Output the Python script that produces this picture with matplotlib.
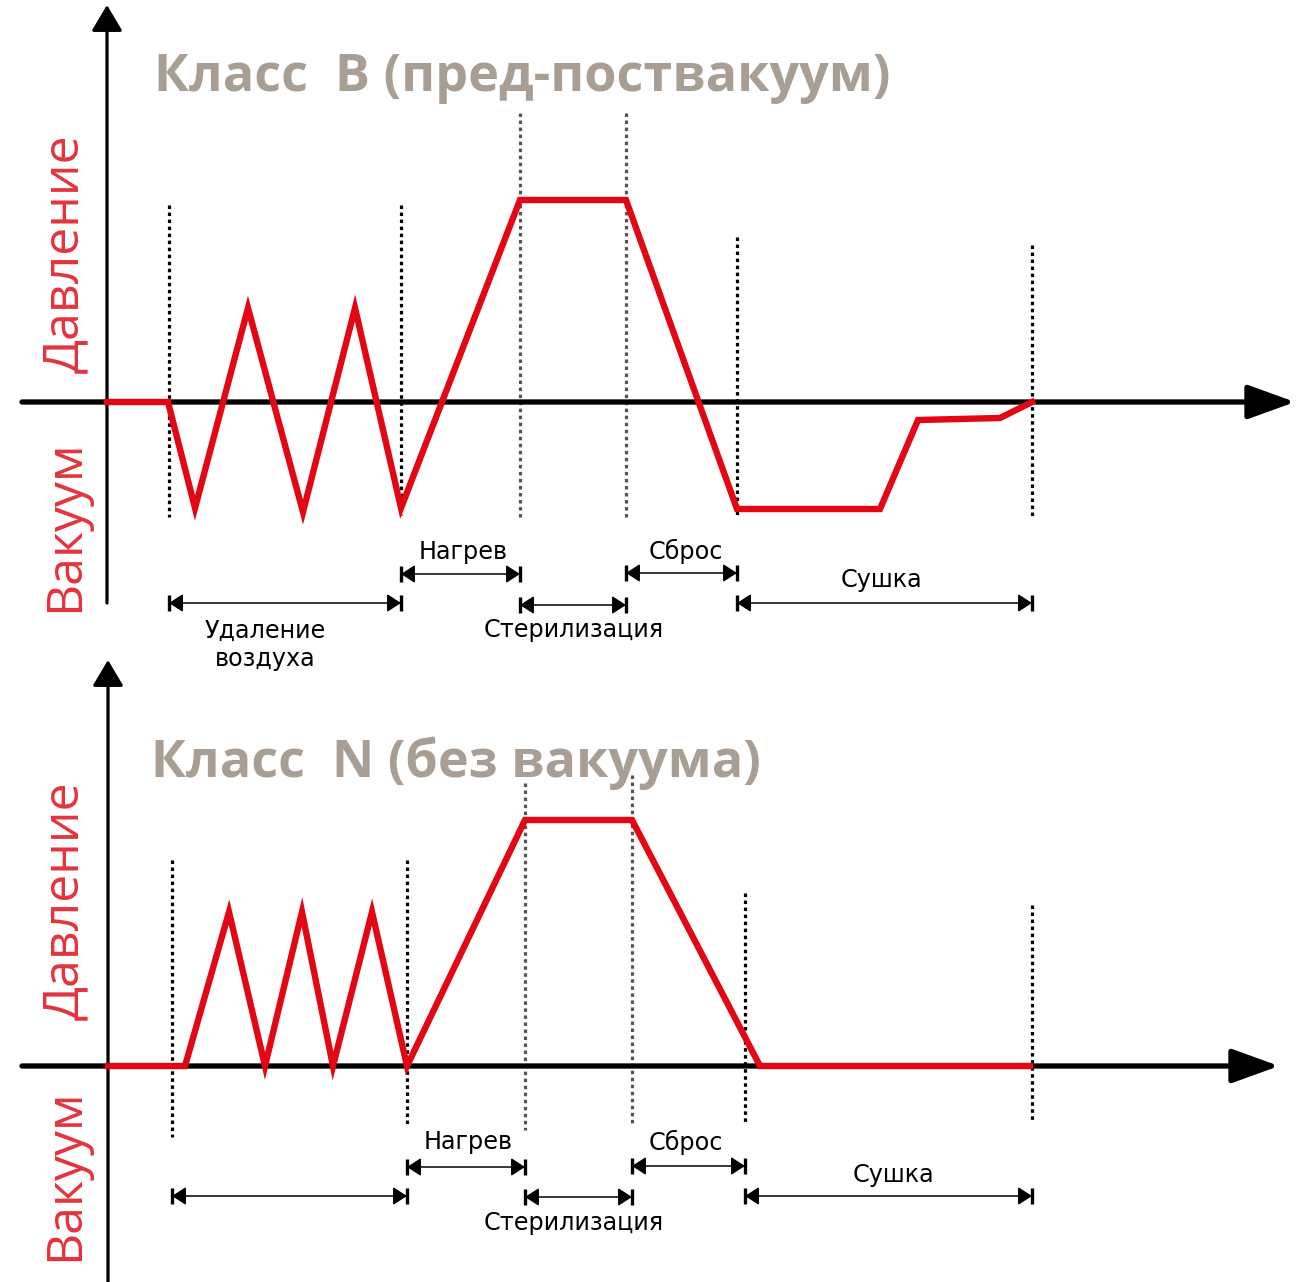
import matplotlib
matplotlib.use("Agg")
import matplotlib.pyplot as plt

# ---------------- data ----------------
# Class B (pre/post vacuum): time (arbitrary units) and pressure (relative, 0 = atmosphere)
b_time = [107, 168, 195, 248, 303, 355, 401, 520, 626, 737, 880, 918, 1000, 1032]
b_pressure = [0, 0, -106, 94, -110, 94, -106, 202, 202, -107, -107, -18, -16, 0]
# phase boundaries (time)
b_bounds = [169, 401, 520, 626, 737, 1032]

# Class N (no vacuum)
n_time = [108, 185, 229, 265, 302, 333, 372, 407, 525, 632, 760, 1030]
n_pressure = [0, 0, 154, 0, 154, 0, 154, 0, 246, 246, 0, 0]
n_bounds = [172, 407, 525, 632, 745, 1032]

title_b = "Класс  B (пред-поствакуум)"
title_n = "Класс  N (без вакуума)"
ylabel_up = "Давление"
ylabel_down = "Вакуум"
phase_labels = ["Удаление\nвоздуха", "Нагрев", "Стерилизация", "Сброс", "Сушка"]

RED = "#e30613"
LABEL_RED = "#e4333c"
TITLE_C = "#a89e93"

W, H = 1310, 1282
fig = plt.figure(figsize=(W / 100, H / 100), dpi=100)

def make_ax(top_px, bot_px, base_px):
    ax = fig.add_axes([0, (H - bot_px) / H, 1, (bot_px - top_px) / H])
    ax.set_xlim(0, W)
    ax.set_ylim(-(bot_px - base_px), base_px - top_px)
    ax.axis("off")
    return ax

ax1 = make_ax(0, 650, 402)
ax2 = make_ax(650, 1282, 1066)

def dim(ax, x1, x2, y):
    ax.annotate("", xy=(x2, y), xytext=(x1, y),
                arrowprops=dict(arrowstyle="<|-|>,head_length=0.85,head_width=0.55",
                                lw=1.1, color="black", shrinkA=0, shrinkB=0,
                                mutation_scale=10))
    ax.plot([x1, x2], [y, y], ls="none", marker="|", ms=12, mew=2.4, color="black")

def panel(ax, time, pres, bounds, title, hx_end, vy_top, vy_bot, vx,
          vline_tops, vline_bot, dims, texts, title_xy, lab_up, lab_down):
    # horizontal axis
    ax.annotate("", xy=(hx_end, 0), xytext=(22, 0),
                arrowprops=dict(arrowstyle="-|>,head_length=2.9,head_width=1.05",
                                lw=3.8, color="black", shrinkA=0, shrinkB=0,
                                mutation_scale=10))
    # vertical axis
    ax.annotate("", xy=(vx, vy_top), xytext=(vx, vy_bot),
                arrowprops=dict(arrowstyle="-|>,head_length=1.6,head_width=0.95",
                                lw=2.3, color="black", shrinkA=0, shrinkB=0,
                                mutation_scale=10))
    # phase boundary lines
    for i, (xb, yt) in enumerate(zip(bounds, vline_tops)):
        col = "#555555" if i in (2, 3) else "black"
        ax.plot([xb, xb], [yt, vline_bot[i]], color=col, lw=2.3,
                ls=(0, (1.1, 1.1)), zorder=2)
    # pressure curve
    ax.plot(time, pres, color=RED, lw=4.6, solid_joinstyle="miter", zorder=3)
    # dimension arrows
    for (x1, x2, y) in dims:
        dim(ax, x1, x2, y)
    for (s, x, y) in texts:
        ax.text(x, y, s, ha="center", va="center", fontsize=17.2,
                family="DejaVu Sans", color="black", linespacing=1.2)
    ax.text(title_xy[0], title_xy[1], title, ha="left", va="center",
            fontsize=37.5, fontweight="bold", family="Open Sans", color=TITLE_C)
    ax.text(65, lab_up, ylabel_up, rotation=90, ha="center", va="center",
            fontsize=36, family="Open Sans", color=LABEL_RED)
    ax.text(65, lab_down, ylabel_down, rotation=90, ha="center", va="center",
            fontsize=36, family="Open Sans", color=LABEL_RED)

# top panel (baseline at 402px)
bb = b_bounds
panel(ax1, b_time, b_pressure, b_bounds, title_b,
      hx_end=1295, vy_top=397, vy_bot=-201, vx=107,
      vline_tops=[197, 197, 289, 289, 165, 157],
      vline_bot=[-115, -113, -115, -115, -115, -115],
      dims=[(bb[0], bb[1], -201), (bb[1], bb[2], -172), (bb[2], bb[3], -203),
            (bb[3], bb[4], -171), (bb[4], bb[5], -201)],
      texts=[(phase_labels[0], 265, -243), (phase_labels[1], 463, -150),
             (phase_labels[2], 574, -228), (phase_labels[3], 686, -149),
             (phase_labels[4], 881, -178)],
      title_xy=(154, 324), lab_up=148, lab_down=-124)

# bottom panel (baseline at 1066px)
nb = n_bounds
panel(ax2, n_time, n_pressure, n_bounds, title_n,
      hx_end=1279, vy_top=406, vy_bot=-216, vx=108,
      vline_tops=[206, 206, 283, 291, 173, 161],
      vline_bot=[-71, -59, -64, -59, -56, -54],
      dims=[(nb[0], nb[1], -130), (nb[1], nb[2], -101), (nb[2], nb[3], -131),
            (nb[3], nb[4], -100), (nb[4], nb[5], -130)],
      texts=[(phase_labels[1], 468, -76), (phase_labels[2], 574, -157),
             (phase_labels[3], 686, -76), (phase_labels[4], 893, -109)],
      title_xy=(151, 303), lab_up=165, lab_down=-109)

fig.savefig("out.png", dpi=100)
